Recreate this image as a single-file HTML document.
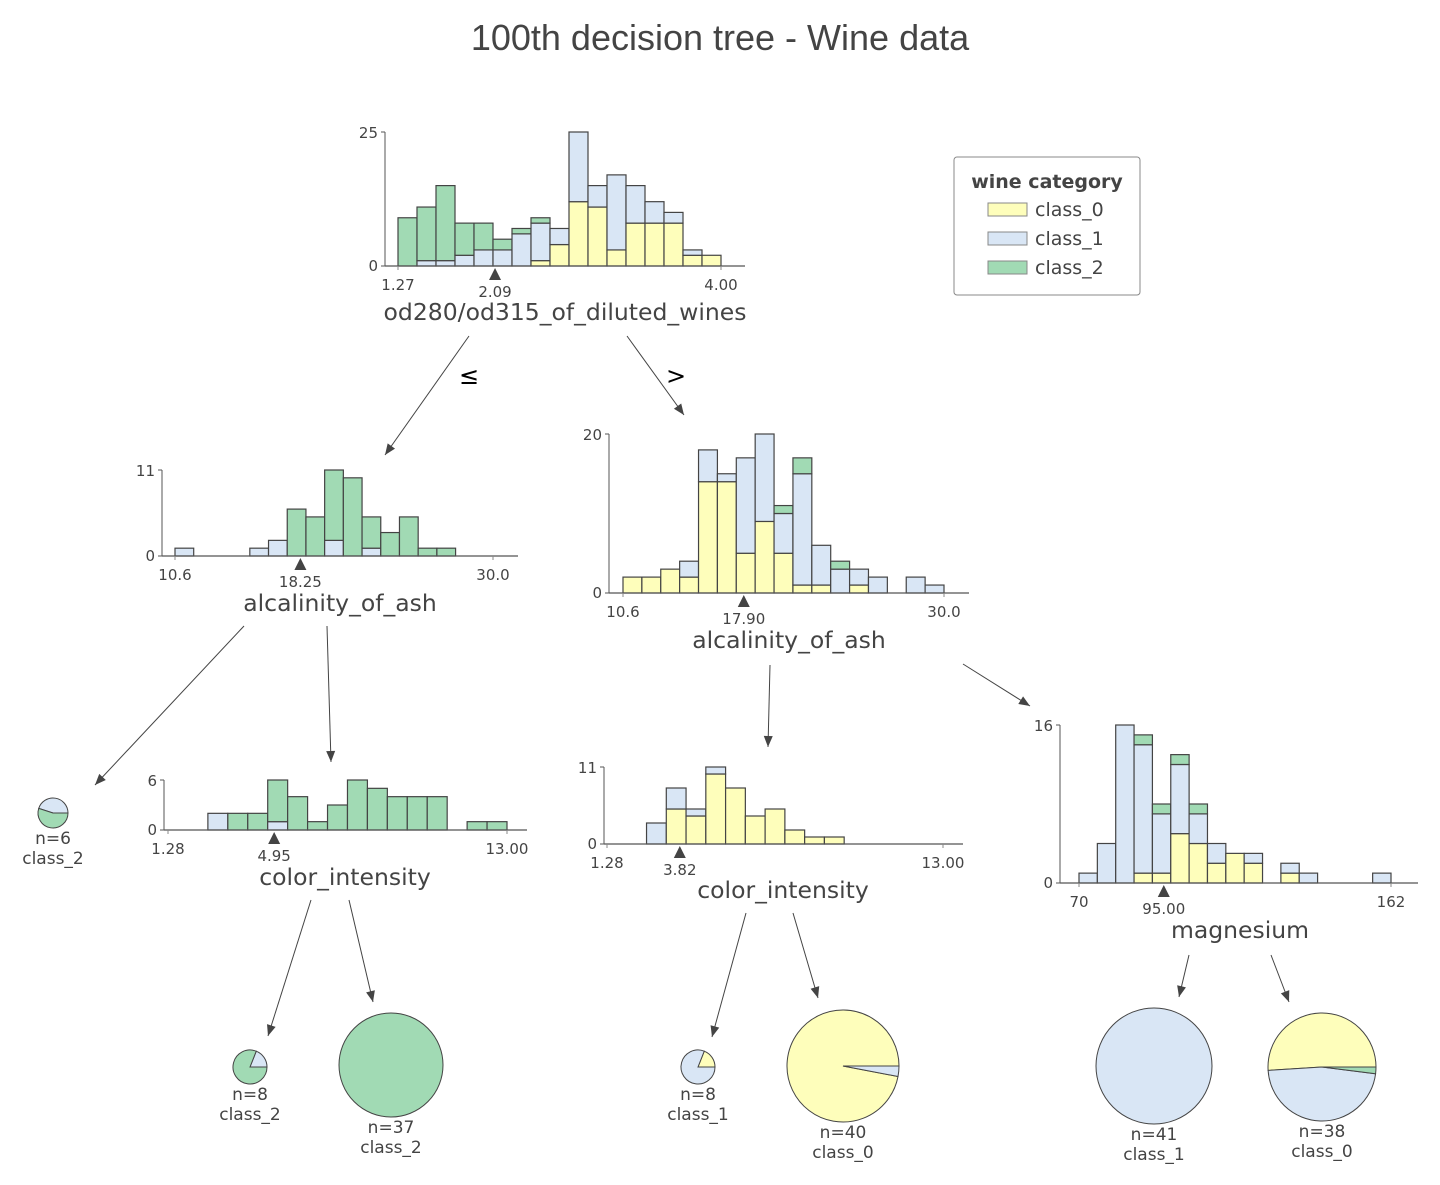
<!DOCTYPE html>
<html><head><meta charset="utf-8"><style>
body{margin:0;background:#fff}
svg{display:block;font-family:"DejaVu Sans","Liberation Sans",sans-serif}
</style></head><body>
<svg id="chart" width="1440" height="1185" viewBox="0 0 1440 1185" xmlns="http://www.w3.org/2000/svg">
<text x="720" y="50" text-anchor="middle" font-size="36" fill="#444" font-family="Liberation Sans, sans-serif">100th decision tree - Wine data</text>
<g>
<rect x="954" y="157" width="186" height="138" rx="3" fill="#fff" stroke="#888"/>
<text x="1047" y="188" text-anchor="middle" font-size="19" font-weight="bold" fill="#444">wine category</text>
<rect x="988" y="203" width="39" height="13" fill="#fefebb" stroke="#888"/>
<text x="1035" y="216" font-size="19" fill="#444">class_0</text>
<rect x="988" y="232" width="39" height="13" fill="#d9e6f5" stroke="#888"/>
<text x="1035" y="245" font-size="19" fill="#444">class_1</text>
<rect x="988" y="261" width="39" height="13" fill="#a1dab4" stroke="#888"/>
<text x="1035" y="274" font-size="19" fill="#444">class_2</text>
</g>
<g id="edges"></g>
<text x="469" y="384" text-anchor="middle" font-size="24" fill="#000">≤</text>
<text x="676" y="384" text-anchor="middle" font-size="24" fill="#000">&gt;</text>
</svg>
<script>
// Data arrays (stacked counts per bin: class_0, class_1, class_2)
const rootC0=[0,0,0,0,0,0,0,1,4,12,11,3,8,8,8,2,2];
const rootC1=[0,1,1,2,3,3,6,7,3,13,4,14,7,4,2,1,0];
const rootC2=[9,10,14,6,5,2,1,1,0,0,0,0,0,0,0,0,0];
const lalkC0=[0,0,0,0,0,0,0,0,0,0,0,0,0,0,0,0,0];
const lalkC1=[1,0,0,0,1,2,0,0,2,0,1,0,0,0,0,0,0];
const lalkC2=[0,0,0,0,0,0,6,5,9,10,4,3,5,1,1,0,0];
const ralkC0=[2,2,3,2,14,14,5,9,5,1,1,0,1,0,0,0,0];
const ralkC1=[0,0,0,2,4,1,12,11,5,14,5,3,2,2,0,2,1];
const ralkC2=[0,0,0,0,0,0,0,0,1,2,0,1,0,0,0,0,0];
const lcolC0=[0,0,0,0,0,0,0,0,0,0,0,0,0,0,0,0,0];
const lcolC1=[0,0,2,0,0,1,0,0,0,0,0,0,0,0,0,0,0];
const lcolC2=[0,0,0,2,2,5,4,1,3,6,5,4,4,4,0,1,1];
const rcolC0=[0,0,0,5,4,10,8,4,5,2,1,1,0,0,0,0,0];
const rcolC1=[0,0,3,3,1,1,0,0,0,0,0,0,0,0,0,0,0];
const rcolC2=[0,0,0,0,0,0,0,0,0,0,0,0,0,0,0,0,0];
const magC0=[0,0,0,1,1,5,4,2,3,2,0,1,0,0,0,0,0];
const magC1=[1,4,16,13,6,7,3,2,0,1,0,1,1,0,0,0,1];
const magC2=[0,0,0,1,1,1,1,0,0,0,0,0,0,0,0,0,0];
const splitValues=[2.09,18.25,17.90,4.95,3.82,95.00];
const leafN=[6,8,37,8,40,41,38];
const leafClass=["class_2","class_2","class_2","class_1","class_0","class_1","class_0"];
const leafFrac0=[0,0,0,0.19,0.97,0,0.51];
const leafFrac1=[0.45,0.19,0,0.81,0.03,1,0.47];
const leafFrac2=[0.55,0.81,1,0,0,0,0.02];

const NS="http://www.w3.org/2000/svg";
const svg=document.getElementById('chart');
const COL=["#fefebb","#d9e6f5","#a1dab4"];
function mk(tag,attrs,parent){const e=document.createElementNS(NS,tag);for(const k in attrs)e.setAttribute(k,attrs[k]);(parent||svg).appendChild(e);return e;}

function hist(name,c0,c1,c2,cfg){
  const g=mk('g',{});
  
  
  const n=c0.length;
  const xs=v=>cfg.bx0+(v-cfg.dmin)/(cfg.dmax-cfg.dmin)*(cfg.bx1-cfg.bx0);
  const ys=v=>cfg.y0-v/cfg.ymax*(cfg.y0-cfg.yTop);
  const bw=(cfg.bx1-cfg.bx0)/n;
  for(let i=0;i<n;i++){
    const vals=[c0[i],c1[i],c2[i]];let base=0;
    const x=xs(cfg.dmin+i*(cfg.dmax-cfg.dmin)/n);
    for(let k=0;k<3;k++){
      if(vals[k]<=0)continue;
      const r=mk('rect',{x:x,y:ys(base+vals[k]),width:bw,height:ys(base)-ys(base+vals[k]),fill:COL[k],stroke:'#444','stroke-width':1.2},g);
      
      
      base+=vals[k];
    }
  }
  mk('line',{x1:cfg.ax,y1:cfg.y0,x2:cfg.bx1+cfg.ext,y2:cfg.y0,stroke:'#555','stroke-width':1.2},g);
  mk('line',{x1:cfg.ax,y1:cfg.y0,x2:cfg.ax,y2:ys(cfg.ymax),stroke:'#555','stroke-width':1},g);
  mk('line',{x1:cfg.ax-4,y1:ys(cfg.ymax),x2:cfg.ax,y2:ys(cfg.ymax),stroke:'#555'},g);
  mk('line',{x1:cfg.ax-4,y1:cfg.y0,x2:cfg.ax,y2:cfg.y0,stroke:'#555'},g);
  const t1=mk('text',{x:cfg.ax-7,y:ys(cfg.ymax)+6,'text-anchor':'end','font-size':15,fill:'#444'},g);t1.textContent=cfg.ymax;
  const t2=mk('text',{x:cfg.ax-7,y:cfg.y0+5,'text-anchor':'end','font-size':15,fill:'#444'},g);t2.textContent='0';
  mk('line',{x1:cfg.bx0,y1:cfg.y0,x2:cfg.bx0,y2:cfg.y0+4,stroke:'#888'},g);
  mk('line',{x1:cfg.bx1,y1:cfg.y0,x2:cfg.bx1,y2:cfg.y0+4,stroke:'#888'},g);
  const tl=mk('text',{x:cfg.bx0,y:cfg.y0+24,'text-anchor':'middle','font-size':15,fill:'#444'},g);tl.textContent=cfg.lo;
  const tr=mk('text',{x:cfg.bx1,y:cfg.y0+24,'text-anchor':'middle','font-size':15,fill:'#444'},g);tr.textContent=cfg.hi;
  const sx=xs(cfg.split);
  const tri=mk('polygon',{points:`${sx},${cfg.y0+2} ${sx-6},${cfg.y0+14} ${sx+6},${cfg.y0+14}`,fill:'#444'},g);
  
  
  const st=mk('text',{x:sx,y:cfg.y0+31,'text-anchor':'middle','font-size':15,fill:'#444'},g);st.textContent=cfg.split.toFixed(2);
  const fl=mk('text',{x:cfg.fx,y:cfg.fy,'text-anchor':'middle','font-size':23.5,fill:'#444'},g);fl.textContent=cfg.feat;
  
  
}
hist('root',rootC0,rootC1,rootC2,{ax:385,bx0:398,bx1:721,ext:24,yTop:132,y0:266,ymax:25,dmin:1.27,dmax:4.00,lo:'1.27',hi:'4.00',split:splitValues[0],feat:'od280/od315_of_diluted_wines',fx:565,fy:320});
hist('left-alcalinity',lalkC0,lalkC1,lalkC2,{ax:162,bx0:175,bx1:493,ext:25,yTop:470,y0:556,ymax:11,dmin:10.6,dmax:30.0,lo:'10.6',hi:'30.0',split:splitValues[1],feat:'alcalinity_of_ash',fx:340,fy:611});
hist('right-alcalinity',ralkC0,ralkC1,ralkC2,{ax:609,bx0:623,bx1:944,ext:25,yTop:434,y0:593,ymax:20,dmin:10.6,dmax:30.0,lo:'10.6',hi:'30.0',split:splitValues[2],feat:'alcalinity_of_ash',fx:789,fy:648});
hist('left-color-intensity',lcolC0,lcolC1,lcolC2,{ax:164,bx0:168,bx1:507,ext:20,yTop:780,y0:830,ymax:6,dmin:1.28,dmax:13.0,lo:'1.28',hi:'13.00',split:splitValues[3],feat:'color_intensity',fx:345,fy:885});
hist('right-color-intensity',rcolC0,rcolC1,rcolC2,{ax:604,bx0:607,bx1:943,ext:20,yTop:767,y0:844,ymax:11,dmin:1.28,dmax:13.0,lo:'1.28',hi:'13.00',split:splitValues[4],feat:'color_intensity',fx:783,fy:898});
hist('magnesium',magC0,magC1,magC2,{ax:1060,bx0:1079,bx1:1391,ext:27,yTop:725,y0:883,ymax:16,dmin:70,dmax:162,lo:'70',hi:'162',split:splitValues[5],feat:'magnesium',fx:1240,fy:938});

// edges
const edges=[[469,336,385,455],[627,336,684,415],[244,626,95,785],[327,626,331,762],[770,665,768,747],[963,664,1030,706],[311,900,268,1036],[349,900,373,1002],[746,913,712,1037],[793,913,818,998],[1189,955,1179,997],[1271,955,1289,1002]];
const eg=document.getElementById('edges');
edges.forEach((e,i)=>{
  const [x1,y1,x2,y2]=e;
  const l=mk('line',{x1,y1,x2,y2,stroke:'#444','stroke-width':1},eg);
  
  
  const a=Math.atan2(y2-y1,x2-x1),L=11,w=4.5;
  const bx=x2-L*Math.cos(a),by=y2-L*Math.sin(a);
  mk('polygon',{points:`${x2},${y2} ${bx-w*Math.sin(a)},${by+w*Math.cos(a)} ${bx+w*Math.sin(a)},${by-w*Math.cos(a)}`,fill:'#444'},eg);
});

// leaves
const leafPos=[[53,813,15],[250,1067,17],[391,1065,52],[698,1067,17],[843,1066,56],[1154,1066,58],[1322,1067,54]];
leafPos.forEach((p,i)=>{
  const [cx,cy,r]=p;
  const g=mk('g',{});
  
  
  const fr=[leafFrac0[i],leafFrac1[i],leafFrac2[i]];
  let ang=0;
  fr.forEach((f,k)=>{
    if(f<=0)return;
    if(f>=0.999){mk('circle',{cx,cy,r,fill:COL[k],stroke:'#444','stroke-width':1},g);return;}
    const a0=ang,a1=ang+f*2*Math.PI;
    const x0=cx+r*Math.cos(a0),y0=cy-r*Math.sin(a0),x1=cx+r*Math.cos(a1),y1=cy-r*Math.sin(a1);
    const s=mk('path',{d:`M${cx},${cy} L${x0},${y0} A${r},${r} 0 ${f>0.5?1:0} 0 ${x1},${y1} Z`,fill:COL[k],stroke:'#444','stroke-width':1},g);
    
    
    ang=a1;
  });
  const t1=mk('text',{x:cx,y:cy+r+16,'text-anchor':'middle','font-size':17,fill:'#444'},g);t1.textContent='n='+leafN[i];
  const t2=mk('text',{x:cx,y:cy+r+36,'text-anchor':'middle','font-size':17,fill:'#444'},g);t2.textContent=leafClass[i];
});
</script>
</body></html>
